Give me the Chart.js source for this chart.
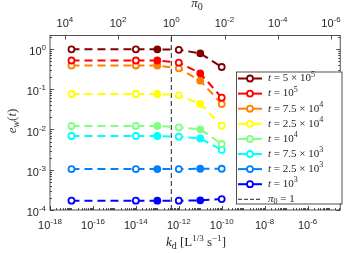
<!DOCTYPE html>
<html>
<head>
<meta charset="utf-8">
<script src="https://cdn.jsdelivr.net/npm/chart.js@4.4.0/dist/chart.umd.min.js"></script>
<style>
  html, body { margin: 0; padding: 0; background: #fff; }
</style>
</head>
<body>
<canvas id="chart" width="346" height="253"></canvas>
<script>
// k_d values (bottom axis) shared by every curve
const kd = [1e-17, 1e-14, 1e-13, 1e-12, 1e-11, 1e-10];

// e_w(t) for each time
const e5e5  = [0.98, 0.98, 0.98, 0.955, 0.78, 0.357];
const e1e5  = [0.518, 0.518, 0.518, 0.457, 0.249, 0.0617];
const e75e4 = [0.389, 0.389, 0.389, 0.331, 0.163, 0.043];
const e25e4 = [0.0762, 0.0762, 0.0762, 0.0707, 0.043, 0.01245];
const e1e4  = [0.01222, 0.01222, 0.01222, 0.01135, 0.0101, 0.00436];
const e75e3 = [0.0069, 0.0069, 0.0069, 0.00662, 0.0060, 0.0031];
const e25e3 = [0.00104, 0.00104, 0.00104, 0.00104, 0.00106, 0.00106];
const e1e3  = [1.70e-4, 1.70e-4, 1.70e-4, 1.70e-4, 1.74e-4, 1.87e-4];

// legend text: t = mant x 10^exp
const tMant = ['5', '', '7.5', '2.5', '', '7.5', '2.5', ''];
const tExp  = ['5', '5', '4', '4', '4', '3', '3', '3'];
const colors = ['#800000', '#ff0000', '#ff8000', '#ffff00', '#80ff80', '#00ffff', '#0080ff', '#0000ff'];
const series = [e5e5, e1e5, e75e4, e25e4, e1e4, e75e3, e25e3, e1e3];

// tick labels (exponents of 10)
const kdTicks = [-18, -16, -14, -12, -10, -8, -6];
const piTicks = [4, 2, 0, -2, -4, -6];
const yTicks = [0, -1, -2, -3, -4];

const Y_MAX = Math.pow(10, 0.335);
const TICK_FONT = '"Liberation Sans", Arial, sans-serif';
const MATH_FONT = '"Liberation Serif", "DejaVu Serif", serif';

const datasets = series.map((s, i) => ({
    label: 't' + i,
    data: kd.map((x, j) => ({ x: x, y: s[j] })),
    borderColor: colors[i],
    backgroundColor: colors[i],
    borderWidth: 2,
    borderDash: [8, 5],
    pointRadius: 3,
    pointBorderWidth: 1.8,
    pointBackgroundColor: kd.map((x, j) => (j === 2 || j === 4) ? colors[i] : '#fff'),
    pointBorderColor: colors[i],
    xAxisID: 'x',
    yAxisID: 'y'
}));

// pi_0 = 1 reference line on the top axis
datasets.push({
    label: 'pi0',
    data: [{ x: 1, y: 1e-4 }, { x: 1, y: Y_MAX }],
    borderColor: '#222',
    borderWidth: 1,
    borderDash: [5, 3],
    pointRadius: 0,
    xAxisID: 'x2',
    yAxisID: 'y'
});

function runs(ctx, parts, x, y, align) {
    let w = 0;
    parts.forEach(p => { ctx.font = p.f; w += ctx.measureText(p.t).width; });
    let cx = align === 'center' ? x - w / 2 : align === 'right' ? x - w : x;
    ctx.textAlign = 'left';
    parts.forEach(p => {
        ctx.font = p.f;
        ctx.fillText(p.t, cx, y + (p.dy || 0));
        cx += ctx.measureText(p.t).width;
    });
    return w;
}

function pow10(e) {
    return [
        { t: '10', f: '11px ' + TICK_FONT },
        { t: String(e), f: '8px ' + TICK_FONT, dy: -4 }
    ];
}

const decor = {
    id: 'decor',
    afterDraw(chart) {
        const ctx = chart.ctx;
        const a = chart.chartArea;
        const sx = chart.scales.x, sx2 = chart.scales.x2, sy = chart.scales.y;
        ctx.save();

        // box
        ctx.strokeStyle = '#262626';
        ctx.lineWidth = 0.8;
        ctx.strokeRect(a.left, a.top, a.right - a.left, a.bottom - a.top);

        ctx.beginPath();
        // y ticks (left and right)
        for (let d = -4; d <= 0; d++) {
            for (let m = 1; m <= 9; m++) {
                const v = m * Math.pow(10, d);
                if (v > Y_MAX) break;
                const py = Math.round(sy.getPixelForValue(v)) + 0.5;
                const len = m === 1 ? 4 : 2;
                ctx.moveTo(a.left, py); ctx.lineTo(a.left + len, py);
                ctx.moveTo(a.right, py); ctx.lineTo(a.right - len, py);
            }
        }
        // bottom ticks
        for (let d = -18; d <= -5; d++) {
            for (let m = 1; m <= 9; m++) {
                const v = m * Math.pow(10, d);
                const px = Math.round(sx.getPixelForValue(v)) + 0.5;
                if (px > a.right) break;
                const len = (m === 1 && d % 2 === 0) ? 4 : 2;
                ctx.moveTo(px, a.bottom); ctx.lineTo(px, a.bottom - len);
            }
        }
        // top ticks (pi_0)
        piTicks.forEach(e => {
            const px = Math.round(sx2.getPixelForValue(Math.pow(10, e))) + 0.5;
            ctx.moveTo(px, a.top); ctx.lineTo(px, a.top + 4);
        });
        ctx.stroke();

        // tick labels
        ctx.fillStyle = '#262626';
        ctx.textBaseline = 'middle';
        kdTicks.forEach(e => runs(ctx, pow10(e), sx.getPixelForValue(Math.pow(10, e)), 226, 'center'));
        piTicks.forEach(e => runs(ctx, pow10(e), sx2.getPixelForValue(Math.pow(10, e)), 24, 'center'));
        yTicks.forEach(e => runs(ctx, pow10(e), 46, sy.getPixelForValue(Math.pow(10, e)) + 3, 'right'));

        // axis titles
        const it13 = 'italic 13px ' + MATH_FONT, up13 = '13px ' + MATH_FONT;
        const up9 = '9px ' + MATH_FONT, it10 = 'italic 10px ' + MATH_FONT, up10 = '10px ' + MATH_FONT;
        runs(ctx, [
            { t: 'k', f: it13 }, { t: 'd', f: up10, dy: 3 },
            { t: ' [L', f: up13 }, { t: '1/3', f: up9, dy: -4 },
            { t: ' s', f: up13 }, { t: '\u22121', f: up9, dy: -4 }, { t: ']', f: up13 }
        ], 196, 243, 'center');
        runs(ctx, [{ t: '\u03c0', f: it13 }, { t: '0', f: up10, dy: 3 }], 197, 4, 'center');
        ctx.save();
        ctx.translate(13, 121);
        ctx.rotate(-Math.PI / 2);
        ctx.fillStyle = '#404040';
        runs(ctx, [
            { t: 'e', f: it13 }, { t: 'w', f: it10, dy: 3 },
            { t: '(', f: up13 }, { t: 't', f: it13 }, { t: ')', f: up13 }
        ], 0, 0, 'center');
        ctx.restore();

        // legend
        const lx = 236, ly = 71.5, lw = 105.5, lh = 132;
        ctx.fillStyle = '#fff';
        ctx.fillRect(lx, ly, lw, lh);
        ctx.strokeStyle = '#262626';
        ctx.lineWidth = 0.8;
        ctx.strokeRect(lx + 0.5, ly + 0.5, lw, lh);
        const itL = 'italic 11px ' + MATH_FONT, upL = '11px ' + MATH_FONT, supL = '8px ' + MATH_FONT;
        for (let i = 0; i <= colors.length; i++) {
            const ry = ly + 7 + i * 15.1;
            ctx.beginPath();
            ctx.setLineDash(i < colors.length ? [] : [4, 2]);
            ctx.strokeStyle = i < colors.length ? colors[i] : '#222';
            ctx.lineWidth = i < colors.length ? 2 : 1;
            ctx.moveTo(lx + 2, ry); ctx.lineTo(lx + 26, ry);
            ctx.stroke();
            ctx.setLineDash([]);
            if (i < colors.length) {
                ctx.beginPath();
                ctx.arc(lx + 14, ry, 3, 0, Math.PI * 2);
                ctx.fillStyle = '#fff';
                ctx.fill();
                ctx.lineWidth = 1.8;
                ctx.stroke();
                ctx.fillStyle = '#262626';
                const parts = [{ t: 't', f: itL }, { t: ' = ', f: upL }];
                if (tMant[i]) parts.push({ t: tMant[i] + ' \u00d7 ', f: upL });
                parts.push({ t: '10', f: upL }, { t: tExp[i], f: supL, dy: -4 });
                runs(ctx, parts, lx + 32, ry, 'left');
            } else {
                ctx.fillStyle = '#262626';
                runs(ctx, [{ t: '\u03c0', f: itL }, { t: '0', f: supL, dy: 2.5 }, { t: ' = 1', f: upL }], lx + 32, ry, 'left');
            }
        }
        ctx.restore();
    }
};

new Chart(document.getElementById('chart'), {
    type: 'line',
    data: { datasets: datasets },
    options: {
        responsive: false,
        devicePixelRatio: 1,
        animation: false,
        layout: { padding: { left: 0, right: 2.7, top: 0, bottom: 0 } },
        plugins: { legend: { display: false }, tooltip: { enabled: false } },
        scales: {
            x: {
                type: 'logarithmic', position: 'bottom',
                min: 1e-18, max: Math.pow(10, -4.48),
                grid: { display: false }, border: { display: false },
                ticks: { display: false },
                afterFit: s => { s.height = 43; }
            },
            x2: {
                type: 'logarithmic', position: 'top', reverse: true,
                min: Math.pow(10, -6.346), max: Math.pow(10, 4.558),
                grid: { display: false }, border: { display: false },
                ticks: { display: false },
                afterFit: s => { s.height = 35.5; }
            },
            y: {
                type: 'logarithmic', position: 'left',
                min: 1e-4, max: Y_MAX,
                grid: { display: false }, border: { display: false },
                ticks: { display: false },
                afterFit: s => { s.height; s.width = 50; }
            }
        }
    },
    plugins: [decor]
});
</script>
</body>
</html>
